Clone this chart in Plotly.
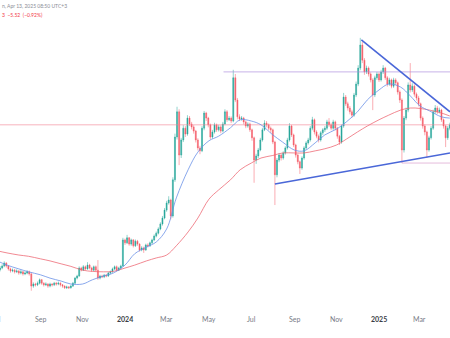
import pandas as pd
import plotly.graph_objects as go

# ---- price data: 3-day candles, BNB/USDT ----
start_date = "2023-07-05"
step = "3D"
first_open = 246

close = [250, 255, 262, 255, 248, 243, 245, 241, 243, 238, 241, 236, 238, 241, 236, 207, 212, 210, 214, 222,
         214, 210, 212, 207, 212, 210, 214, 212, 214, 210, 207, 203, 205, 203, 207, 214, 226, 231, 250, 245,
         253, 248, 257, 250, 245, 253, 245, 226, 231, 229, 233, 231, 238, 241, 248, 253, 245, 250, 255, 317,
         310, 322, 307, 317, 303, 314, 307, 293, 298, 293, 305, 303, 310, 317, 326, 333, 343, 355, 369, 388,
         405, 412, 374, 460, 562, 622, 519, 555, 583, 569, 607, 593, 586, 576, 555, 536, 529, 583, 619, 607,
         591, 562, 574, 591, 579, 586, 576, 593, 622, 603, 607, 600, 703, 650, 610, 605, 607, 598, 588, 593,
         579, 560, 507, 517, 531, 555, 579, 595, 591, 583, 579, 550, 472, 507, 519, 512, 524, 536, 555, 588,
         567, 543, 519, 503, 488, 512, 536, 548, 555, 583, 603, 574, 564, 555, 572, 579, 583, 598, 591, 583,
         598, 583, 564, 550, 588, 657, 641, 631, 622, 614, 662, 688, 726, 781, 745, 717, 726, 712, 698, 662,
         703, 712, 698, 717, 726, 703, 688, 698, 683, 698, 691, 669, 650, 531, 607, 626, 686, 674, 683, 664,
         655, 641, 607, 588, 574, 531, 560, 583, 622, 631, 622, 626, 603, 588, 560, 583, 591]

high = [255, 259, 266, 264, 257, 251, 249, 248, 247, 245, 246, 243, 242, 245, 244, 239, 216, 215, 218, 225,
        224, 216, 216, 214, 215, 214, 217, 217, 218, 216, 212, 209, 208, 207, 210, 217, 229, 234, 254, 253,
        257, 256, 264, 260, 253, 256, 256, 269, 234, 234, 236, 236, 241, 244, 251, 256, 256, 253, 258, 322,
        320, 329, 324, 320, 319, 318, 317, 309, 302, 301, 308, 309, 313, 320, 330, 337, 347, 359, 374, 393,
        410, 421, 415, 466, 570, 634, 628, 560, 590, 588, 614, 612, 598, 590, 579, 559, 541, 588, 624, 622,
        610, 594, 579, 596, 594, 591, 590, 598, 628, 626, 612, 611, 722, 712, 655, 616, 612, 610, 601, 597,
        596, 582, 563, 522, 536, 560, 584, 602, 600, 594, 587, 582, 553, 512, 524, 522, 528, 540, 560, 595,
        591, 570, 546, 522, 506, 516, 540, 552, 560, 588, 610, 606, 578, 568, 576, 583, 588, 603, 607, 596,
        603, 601, 586, 567, 592, 667, 662, 646, 636, 627, 667, 694, 733, 798, 788, 750, 732, 730, 716, 702,
        708, 717, 716, 722, 733, 729, 707, 703, 701, 703, 702, 694, 673, 654, 612, 632, 692, 738, 690, 687,
        668, 660, 644, 611, 592, 577, 565, 588, 627, 638, 636, 632, 629, 606, 591, 588, 596]

low = [242, 247, 252, 251, 244, 239, 240, 237, 238, 234, 235, 232, 233, 235, 232, 196, 203, 206, 207, 211,
       210, 206, 207, 203, 204, 206, 207, 208, 209, 206, 203, 200, 200, 200, 201, 205, 212, 223, 229, 242,
       243, 245, 246, 247, 241, 243, 242, 222, 223, 226, 226, 228, 229, 235, 239, 245, 242, 243, 247, 253,
       305, 307, 303, 303, 299, 300, 303, 289, 290, 286, 291, 299, 300, 307, 314, 323, 330, 340, 351, 366,
       384, 401, 366, 370, 455, 556, 495, 512, 550, 562, 565, 588, 580, 570, 549, 530, 521, 526, 578, 600,
       585, 556, 558, 570, 574, 575, 571, 573, 590, 598, 600, 595, 597, 645, 604, 600, 601, 592, 583, 584,
       574, 553, 453, 498, 512, 528, 551, 576, 585, 578, 572, 545, 400, 466, 502, 506, 508, 520, 532, 551,
       562, 538, 513, 497, 474, 484, 508, 532, 544, 551, 578, 568, 559, 549, 551, 567, 574, 579, 586, 578,
       579, 578, 558, 543, 546, 584, 636, 625, 616, 608, 610, 657, 683, 721, 738, 710, 712, 706, 692, 626,
       657, 698, 693, 694, 712, 698, 682, 684, 678, 679, 686, 663, 643, 500, 525, 602, 621, 668, 669, 658,
       649, 635, 601, 582, 566, 512, 527, 556, 579, 617, 617, 618, 598, 582, 538, 555, 578]

# ---- moving averages (MA 50 / MA 200), sampled twice a month ----
ma_dates = ["2023-07-01", "2023-07-15", "2023-08-01", "2023-08-15", "2023-09-01", "2023-09-15",
            "2023-10-01", "2023-10-15", "2023-11-01", "2023-11-15", "2023-12-01", "2023-12-15",
            "2024-01-01", "2024-01-15", "2024-02-01", "2024-02-15", "2024-03-01", "2024-03-15",
            "2024-04-01", "2024-04-15", "2024-05-01", "2024-05-15", "2024-06-01", "2024-06-15",
            "2024-07-01", "2024-07-15", "2024-08-01", "2024-08-15", "2024-09-01", "2024-09-15",
            "2024-10-01", "2024-10-15", "2024-11-01", "2024-11-15", "2024-12-01", "2024-12-15",
            "2025-01-01", "2025-01-15", "2025-02-01", "2025-02-15", "2025-03-01", "2025-03-15",
            "2025-04-01", "2025-04-13"]
ma50 = [267, 257, 248, 241, 234, 226, 219, 212, 212, 222, 231, 238,
        257, 284, 300, 312, 343, 417, 484, 526, 553, 564, 584, 603,
        600, 591, 567, 550, 531, 529, 548, 567, 581, 598, 622, 650,
        674, 688, 681, 660, 636, 624, 610, 607]
ma200 = [291, 286, 281, 278, 272, 267, 260, 254, 245, 242, 241, 242,
         250, 257, 267, 274, 281, 303, 336, 369, 414, 436, 460, 484,
         500, 512, 518, 524, 524, 524, 529, 534, 543, 557, 574, 588,
         603, 614, 626, 631, 630, 626, 619, 612]

# ---- drawn levels and triangle trendlines ----
level_resistance = 717
level_mid = 591
level_support = 500
resistance_from = "2024-05-22"
support_from = "2025-02-03"
upper_trend_dates = ["2024-12-06 14:00", "2025-04-13 07:00"]
upper_trend_prices = [793, 622]
lower_trend_dates = ["2024-08-04 00:00", "2025-04-13 07:00"]
lower_trend_prices = [450, 524]

# ---- axis ticks ----
tick_dates = ["2023-07-01", "2023-09-01", "2023-11-01", "2024-01-01", "2024-03-01", "2024-05-01",
              "2024-07-01", "2024-09-01", "2024-11-01", "2025-01-01", "2025-03-01"]
tick_text = ["Jul", "Sep", "Nov", "2024", "Mar", "May", "Jul", "Sep", "Nov", "2025", "Mar"]

x_start, x_end = "2023-07-04 22:00", "2025-04-13 07:00"
y_low, y_high = 150.1, 888.2

dates = pd.date_range(start_date, periods=len(close), freq=step)
opens = [first_open] + close[:-1]

UP = "#26a69a"
DOWN = "#f45b67"

fig = go.Figure()

fig.add_trace(go.Scatter(x=[x_start, x_end], y=[level_mid, level_mid], mode="lines",
                         line=dict(color="rgba(242,130,145,0.75)", width=0.8), hoverinfo="skip"))
fig.add_trace(go.Scatter(x=[resistance_from, x_end], y=[level_resistance, level_resistance], mode="lines",
                         line=dict(color="rgba(170,140,220,0.85)", width=0.8), hoverinfo="skip"))
fig.add_trace(go.Scatter(x=[support_from, x_end], y=[level_support, level_support], mode="lines",
                         line=dict(color="rgba(214,150,200,0.8)", width=0.8), hoverinfo="skip"))

fig.add_trace(go.Scatter(x=ma_dates, y=ma200, mode="lines", line_shape="spline",
                         line=dict(color="rgba(236,100,112,0.85)", width=0.9), hoverinfo="skip"))
fig.add_trace(go.Scatter(x=ma_dates, y=ma50, mode="lines", line_shape="spline",
                         line=dict(color="rgba(100,140,230,0.85)", width=0.9), hoverinfo="skip"))

fig.add_trace(go.Candlestick(
    x=dates, open=opens, high=high, low=low, close=close,
    increasing=dict(line=dict(color=UP, width=0.5), fillcolor=UP),
    decreasing=dict(line=dict(color=DOWN, width=0.5), fillcolor=DOWN),
    whiskerwidth=0, hoverinfo="skip"))

fig.add_trace(go.Scatter(x=upper_trend_dates, y=upper_trend_prices, mode="lines",
                         line=dict(color="#4a67d8", width=1.6), hoverinfo="skip"))
fig.add_trace(go.Scatter(x=lower_trend_dates, y=lower_trend_prices, mode="lines",
                         line=dict(color="#4a67d8", width=1.6), hoverinfo="skip"))

font_family = "Lato, 'Noto Sans', sans-serif"
annotations = []
for d, t in zip(tick_dates, tick_text):
    is_year = t.isdigit()
    label = dict(x=d, xref="x", y=-0.029, yref="paper", text=f"<b>{t}</b>" if is_year else t,
                 showarrow=False, xanchor="center", yanchor="middle",
                 font=dict(size=7, color="#3a3d45" if is_year else "#787b86", family=font_family))
    if pd.Timestamp(d) < pd.Timestamp(x_start):
        # month that begins just before the visible window: pin its label to the left edge
        label.update(x=x_start, xanchor="right", xshift=2.5)
    annotations.append(label)
annotations.append(dict(x=0, xref="paper", y=1.0, yref="paper", yshift=-1, text="n, Apr 13, 2025 08:50 UTC+3",
                        showarrow=False, xanchor="left", yanchor="top",
                        font=dict(size=5, color="#8a8d95", family=font_family)))
annotations.append(dict(x=0, xref="paper", y=1.0, yref="paper", yshift=-10, text="3  \u22125.52  (\u22120.92%)",
                        showarrow=False, xanchor="left", yanchor="top",
                        font=dict(size=5, color="#f23645", family=font_family)))

fig.update_layout(
    width=450, height=338, margin=dict(l=0, r=0, t=0, b=28),
    paper_bgcolor="white", plot_bgcolor="white", showlegend=False,
    xaxis=dict(range=[x_start, x_end], showgrid=False, zeroline=False, showticklabels=False,
               rangeslider=dict(visible=False), fixedrange=True),
    yaxis=dict(range=[y_low, y_high], showgrid=False, zeroline=False, showticklabels=False, fixedrange=True),
    annotations=annotations,
)

fig.write_html("out.html", config={"displayModeBar": False})
